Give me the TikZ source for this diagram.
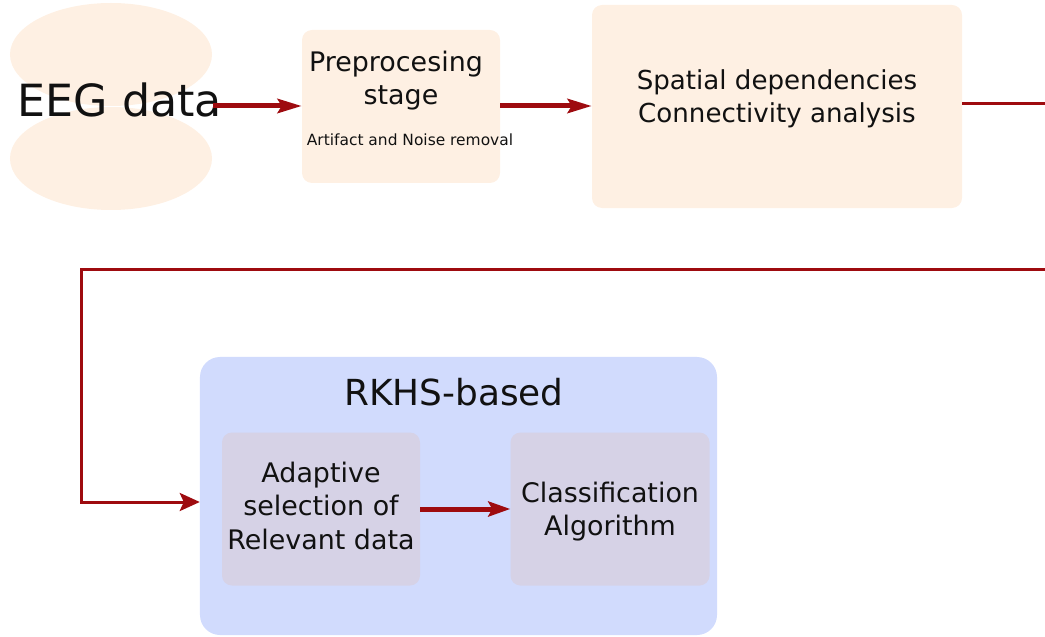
\documentclass[tikz,border=0pt]{standalone}
\usepackage{fontspec}
\setmainfont{DejaVu Sans}
\usetikzlibrary{arrows.meta,shapes.geometric}
\definecolor{peachc}{HTML}{FEF0E3}
\definecolor{bluec}{HTML}{D1DBFD}
\definecolor{lilacc}{HTML}{D6D2E6}
\definecolor{linkc}{HTML}{9E0B0F}
\definecolor{inkc}{HTML}{111111}
\begin{document}
\begin{tikzpicture}[x=1bp,y=-1bp,
  blob/.style={ellipse, fill=peachc, draw=none, minimum width=202bp, minimum height=103bp, inner sep=0pt},
  stagebox/.style={rounded corners=10bp, fill=peachc, draw=none, inner sep=0pt},
  groupbox/.style={rounded corners=20bp, fill=bluec, draw=none, inner sep=0pt},
  innerbox/.style={rounded corners=10bp, fill=lilacc, draw=none, inner sep=0pt},
  txt/.style={text=inkc, inner sep=0pt, anchor=base, font=\fontsize{27}{33}\selectfont},
  bigflow/.style={draw=linkc, line width=5bp, -{Stealth[length=24bp,width=14bp,inset=4bp]}},
  thinflow/.style={draw=linkc, line width=3bp, line join=miter},
]
\clip (0,0) rectangle (1045,637);

% source data
\node[blob] (eegtop) at (111,54.5) {};
\node[blob] (eegbot) at (111,158.5) {};
\node[txt, font=\fontsize{44.5}{50}\selectfont] (eeg) at (120,117) {EEG data};

% preprocessing
\node[stagebox, minimum width=198bp, minimum height=153bp] (pre) at (401,106.5) {};
\node[txt] (pre1) at (396,72) {Preprocesing};
\node[txt] (pre2) at (401,105) {stage};
\node[txt, font=\fontsize{15.5}{18}\selectfont] (pre3) at (410,146) {Artifact and Noise removal};

% connectivity
\node[stagebox, minimum width=370bp, minimum height=203bp] (spat) at (777,106.5) {};
\node[txt, font=\fontsize{26.2}{32}\selectfont] (spat1) at (777,90) {Spatial dependencies};
\node[txt, font=\fontsize{26.2}{32}\selectfont] (spat2) at (777,123) {Connectivity analysis};

% RKHS group
\node[groupbox, minimum width=517bp, minimum height=278bp] (rkhs) at (458.5,496) {};
\node[txt, font=\fontsize{36}{42}\selectfont] (rkhst) at (454,405) {RKHS-based};
\node[innerbox, minimum width=198bp, minimum height=153bp] (adapt) at (321,509) {};
\node[txt] (ad1) at (321,482) {Adaptive};
\node[txt] (ad2) at (321,515) {selection of};
\node[txt] (ad3) at (321,549) {Relevant data};
\node[innerbox, minimum width=199bp, minimum height=153bp] (cls) at (610,509) {};
\node[txt] (cl1) at (610,502) {Classification};
\node[txt] (cl2) at (610,535) {Algorithm};

% connectors
\coordinate (out1) at (1050,104);
\coordinate (out2) at (1050,270);
\coordinate (turn) at (81,270);

\draw[bigflow] (213,106) -- (pre.west |- 0,106);
\draw[bigflow] (pre.east |- 0,106) -- (spat.west |- 0,106);
\draw[thinflow] (spat.east |- 0,104) -- (out1);
\draw[thinflow, -{Stealth[length=20bp,width=18bp,inset=4bp]}]
  (out2) -- (turn) -- (turn |- 0,502) -- (rkhs.west |- 0,502);
\draw[bigflow, -{Stealth[length=22bp,width=15bp,inset=4bp]}] (adapt.east |- 0,509) -- (cls.west |- 0,509);
\end{tikzpicture}
\end{document}
